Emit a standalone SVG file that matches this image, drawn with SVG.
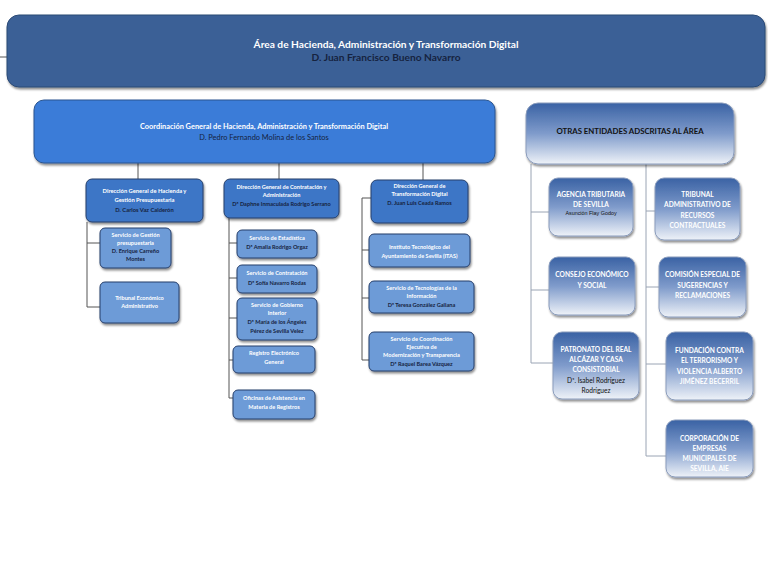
<svg xmlns="http://www.w3.org/2000/svg" width="768" height="564" viewBox="0 0 768 564">
<defs>
<filter id="sh" x="-10%" y="-10%" width="125%" height="135%"><feDropShadow dx="1" dy="2" stdDeviation="1.3" flood-color="#000" flood-opacity="0.45"/></filter>
<linearGradient id="gr" x1="0" y1="0" x2="0" y2="1"><stop offset="0" stop-color="#3a62a4"/><stop offset="0.5" stop-color="#7f9bcb"/><stop offset="1" stop-color="#eef2f8"/></linearGradient>
<style>
text{font-family:"Lato","Liberation Sans",sans-serif;text-anchor:middle;font-weight:bold}
.w{fill:#ffffff}
.d{fill:#16233f}
.k{fill:#111111}
.ban{fill:#3b6196;stroke:#2b4a75;stroke-width:1}
.co{fill:#3a7bd8;stroke:#2a5590;stroke-width:1}
.dg{fill:#3d76c6;stroke:#263f6b;stroke-width:1}
.sv{fill:#6d9bd7;stroke:#263f6b;stroke-width:1}
.ot{fill:url(#gr);stroke:#8a9cbc;stroke-width:1}
.ln{fill:none;stroke:#555;stroke-width:1}
.ln2{fill:none;stroke:#9aa4b4;stroke-width:1}
.s{font-size:5.6px}
.m{font-size:5.8px}
.u{font-size:6.6px}
</style>
</defs>

<g id="connectors">
<path class="ln" d="M0 57H7"/>
<path class="ln" d="M138 163V179M279 163V179M423 163V180"/>
<path class="ln" d="M87 222V307M87 243H100M87 307H100"/>
<path class="ln" d="M229 218V398M229 243H237M229 278H237M229 318H237M229 360H233M229 398H233"/>
<path class="ln" d="M362 198V360M362 198H371M362 250H369M362 298H369M362 360H369"/>
<path class="ln2" d="M531 164V363M531 212H549M531 290H549M531 363H553"/>
<path class="ln2" d="M646 164V456M646 211H655M646 287H659M646 364H666M646 456H666"/>
</g>

<g id="area">
<rect class="ban" x="7" y="15" width="758" height="72" rx="12" filter="url(#sh)"/>
<text class="w" x="386" y="48" font-size="10.2">Área de Hacienda, Administración y Transformación Digital</text>
<text class="d" x="386" y="61" font-size="10.2">D. Juan Francisco Bueno Navarro</text>
</g>

<g id="coordinacion">
<rect class="co" x="34" y="100" width="461" height="63" rx="10" filter="url(#sh)"/>
<text class="w" x="264" y="129" font-size="7.4">Coordinación General de Hacienda, Administración y Transformación Digital</text>
<text class="d" x="264" y="140" font-size="7.4" style="font-weight:normal">D. Pedro Fernando Molina de los Santos</text>
</g>

<g id="dg-hacienda">
<rect class="dg" x="86" y="179" width="117" height="43" rx="6" filter="url(#sh)"/>
<text class="w m" x="144.5" y="193">Dirección General de Hacienda y</text>
<text class="w m" x="144.5" y="202">Gestión Presupuestaria</text>
<text class="d m" x="144.5" y="212">D. Carlos Vaz Calderón</text>
</g>
<g id="sv-gestion">
<rect class="sv" x="100" y="228" width="71" height="40" rx="5" filter="url(#sh)"/>
<text class="w s" x="135.5" y="237">Servicio de Gestión</text>
<text class="w s" x="135.5" y="245">presupuestaria</text>
<text class="d s" x="135.5" y="253">D. Enrique Carreño</text>
<text class="d s" x="135.5" y="261">Montes</text>
</g>
<g id="tribunal-economico">
<rect class="sv" x="100" y="282" width="79" height="41" rx="5" filter="url(#sh)"/>
<text class="w s" x="139.5" y="300">Tribunal Económico</text>
<text class="w s" x="139.5" y="308">Administrativo</text>
</g>

<g id="dg-contratacion">
<rect class="dg" x="224" y="179" width="115" height="39" rx="6" filter="url(#sh)"/>
<text class="w s" x="281.5" y="189">Dirección General de Contratación y</text>
<text class="w s" x="281.5" y="197">Administración</text>
<text class="d s" x="281.5" y="206">Dª Daphne Inmaculada Rodrigo Serrano</text>
</g>
<g id="sv-estadistica">
<rect class="sv" x="237" y="230" width="80" height="28" rx="5" filter="url(#sh)"/>
<text class="w s" x="277" y="240">Servicio de Estadística</text>
<text class="d s" x="277" y="249">Dª Amalia Rodrigo Orgaz</text>
</g>
<g id="sv-contratacion">
<rect class="sv" x="237" y="265" width="80" height="28" rx="5" filter="url(#sh)"/>
<text class="w s" x="277" y="275">Servicio de Contratación</text>
<text class="d s" x="277" y="285">Dª Sofía Navarro Rodas</text>
</g>
<g id="sv-gobierno">
<rect class="sv" x="237" y="298" width="80" height="42" rx="5" filter="url(#sh)"/>
<text class="w s" x="277" y="307">Servicio de Gobierno</text>
<text class="w s" x="277" y="315">Interior</text>
<text class="d s" x="277" y="324">Dª María de los Ángeles</text>
<text class="d s" x="277" y="333">Pérez  de Sevilla Velez</text>
</g>
<g id="registro">
<rect class="sv" x="233" y="346" width="82" height="27" rx="5" filter="url(#sh)"/>
<text class="w s" x="274" y="355">Registro Electrónico</text>
<text class="w s" x="274" y="364">General</text>
</g>
<g id="oficinas">
<rect class="sv" x="233" y="390" width="82" height="29" rx="5" filter="url(#sh)"/>
<text class="w s" x="274" y="400">Oficinas de Asistencia en</text>
<text class="w s" x="274" y="409">Materia de Registros</text>
</g>

<g id="dg-transformacion">
<rect class="dg" x="371" y="180" width="97" height="43" rx="6" filter="url(#sh)"/>
<text class="w s" x="419.5" y="188">Dirección General de</text>
<text class="w s" x="419.5" y="196">Transformación Digital</text>
<text class="d s" x="419.5" y="205">D. Juan Luis Ceada Ramos</text>
</g>
<g id="itas">
<rect class="sv" x="369" y="234" width="101" height="33" rx="5" filter="url(#sh)"/>
<text class="w s" x="419.5" y="249">Instituto Tecnológico del</text>
<text class="w s" x="419.5" y="258">Ayuntamiento de Sevilla (ITAS)</text>
</g>
<g id="sv-tecnologias">
<rect class="sv" x="369" y="281" width="105" height="32" rx="5" filter="url(#sh)"/>
<text class="w s" x="421.5" y="290">Servicio de  Tecnologías de la</text>
<text class="w s" x="421.5" y="298">Información</text>
<text class="d s" x="421.5" y="307">Dª Teresa González Galiana</text>
</g>
<g id="sv-coordinacion">
<rect class="sv" x="369" y="332" width="105" height="39" rx="5" filter="url(#sh)"/>
<text class="w s" x="421.5" y="341">Servicio de Coordinación</text>
<text class="w s" x="421.5" y="349">Ejecutiva de</text>
<text class="w s" x="421.5" y="357">Modernización y Transparencia</text>
<text class="d s" x="421.5" y="366">Dª Raquel Barea Vázquez</text>
</g>

<g id="otras">
<rect class="ot" x="526" y="103" width="208" height="61" rx="12" filter="url(#sh)"/>
<text class="k" x="630" y="134" font-size="7.8">OTRAS ENTIDADES ADSCRITAS AL ÁREA</text>
</g>
<g id="agencia">
<rect class="ot" x="549" y="178" width="84" height="58" rx="9" filter="url(#sh)"/>
<text class="w u" x="591" y="197">AGENCIA TRIBUTARIA</text>
<text class="w u" x="591" y="207">DE SEVILLA</text>
<text class="k" x="591" y="215" font-size="5.4" style="font-weight:normal;font-family:'Liberation Sans',sans-serif">Asunción Flay Godoy</text>
</g>
<g id="consejo">
<rect class="ot" x="549" y="257" width="86" height="58" rx="9" filter="url(#sh)"/>
<text class="w u" x="592" y="277">CONSEJO ECONÓMICO</text>
<text class="w u" x="592" y="288">Y SOCIAL</text>
</g>
<g id="patronato">
<rect class="ot" x="553" y="332" width="86" height="67" rx="9" filter="url(#sh)"/>
<text class="w u" x="596" y="352">PATRONATO DEL REAL</text>
<text class="w u" x="596" y="362">ALCÁZAR Y CASA</text>
<text class="w u" x="596" y="372">CONSISTORIAL</text>
<text class="k u" x="596" y="383" style="font-weight:normal">Dª. Isabel Rodríguez</text>
<text class="k u" x="596" y="393" style="font-weight:normal">Rodríguez</text>
</g>
<g id="tribunal-recursos">
<rect class="ot" x="655" y="178" width="85" height="62" rx="9" filter="url(#sh)"/>
<text class="w u" x="697.5" y="197">TRIBUNAL</text>
<text class="w u" x="697.5" y="207">ADMINISTRATIVO DE</text>
<text class="w u" x="697.5" y="218">RECURSOS</text>
<text class="w u" x="697.5" y="228">CONTRACTUALES</text>
</g>
<g id="comision">
<rect class="ot" x="659" y="257" width="87" height="60" rx="9" filter="url(#sh)"/>
<text class="w u" x="702.5" y="277">COMISIÓN ESPECIAL DE</text>
<text class="w u" x="702.5" y="288">SUGERENCIAS Y</text>
<text class="w u" x="702.5" y="298">RECLAMACIONES</text>
</g>
<g id="fundacion">
<rect class="ot" x="666" y="332" width="87" height="68" rx="9" filter="url(#sh)"/>
<text class="w u" x="709.5" y="353">FUNDACIÓN CONTRA</text>
<text class="w u" x="709.5" y="363">EL TERRORISMO Y</text>
<text class="w u" x="709.5" y="374">VIOLENCIA ALBERTO</text>
<text class="w u" x="709.5" y="384">JIMÉNEZ BECERRIL</text>
</g>
<g id="corporacion">
<rect class="ot" x="666" y="420" width="87" height="57" rx="9" filter="url(#sh)"/>
<text class="w u" x="709.5" y="441">CORPORACIÓN DE</text>
<text class="w u" x="709.5" y="451">EMPRESAS</text>
<text class="w u" x="709.5" y="461">MUNICIPALES  DE</text>
<text class="w u" x="709.5" y="471">SEVILLA, AIE</text>
</g>
</svg>
